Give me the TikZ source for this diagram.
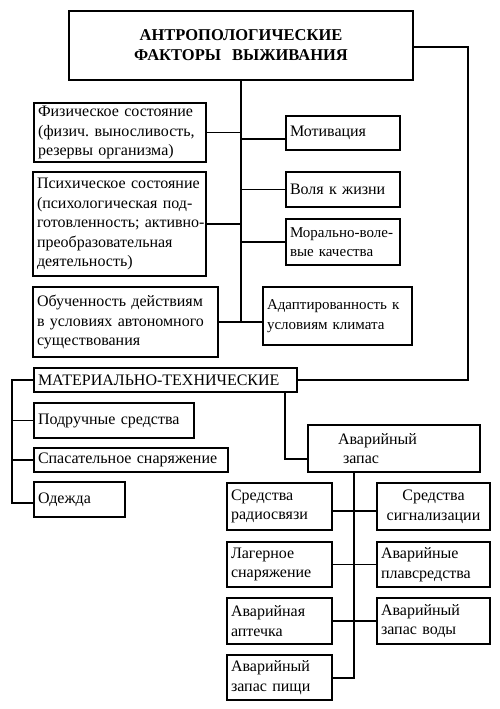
\documentclass[tikz,border=0pt]{standalone}
\usepackage{fontspec}
\setmainfont{Liberation Serif}
\usepackage{tikz}
\tikzset{
    factorbox/.style n args={3}{draw, line width=1.1pt, minimum width=#1, minimum height=#2, text width=#3, inner xsep=4pt, inner ysep=0pt, align=left, font=\fontsize{16}{19.5}\selectfont},
    linkline/.style={line width=1.1pt}
}

\begin{document}
\begin{tikzpicture}[x=1pt,y=-1pt]
    \useasboundingbox (0,0) rectangle (500,709);

    \node[factorbox={344pt}{69pt}{336pt}, align=center, font=\fontsize{16.5}{20}\selectfont\bfseries] (title) at (241,45.5) {АНТРОПОЛОГИЧЕСКИЕ\\ФАКТОРЫ\ \ ВЫЖИВАНИЯ};

    \node[factorbox={172pt}{59pt}{164pt}] (phys) at (120,132.5) {Физическое состояние\\\mbox{(физич.\ выносливость,}\\резервы организма)};
    \node[factorbox={173pt}{104pt}{165pt}] (psych) at (119.5,224) {Психическое состояние\\\mbox{(психологическая под-}\\\mbox{готовленность; активно-}\\преобразовательная\\деятельность)};
    \node[factorbox={185pt}{70pt}{177pt}] (train) at (125.5,322) {\mbox{Обученность действиям}\\\mbox{в условиях автономного}\\существования};

    \node[factorbox={114pt}{34pt}{106pt}] (motiv) at (343,133) {Мотивация};
    \node[factorbox={114pt}{35pt}{106pt}] (will) at (343,189.5) {Воля к жизни};
    \node[factorbox={114pt}{46pt}{106pt}, font=\fontsize{15}{19.5}\selectfont] (moral) at (343,242) {\mbox{Морально-воле-}\\вые качества};
    \node[factorbox={149pt}{58pt}{141pt}, font=\fontsize{15}{19.5}\selectfont] (adapt) at (337.5,316) {\mbox{Адаптированность к}\\условиям климата};

    \node[factorbox={263pt}{24pt}{255pt}] (mater) at (165.5,380) {МАТЕРИАЛЬНО-ТЕХНИЧЕСКИЕ};
    \node[factorbox={160pt}{35pt}{152pt}] (handy) at (114,420.5) {Подручные средства};
    \node[factorbox={194pt}{24pt}{186pt}] (rescue) at (131,460) {\mbox{Спасательное снаряжение}};
    \node[factorbox={91pt}{35pt}{83pt}] (cloth) at (79.5,499.5) {Одежда};

    \node[factorbox={172pt}{47pt}{164pt}] (reserve) at (394,448.5) {\hspace*{26pt}Аварийный\\\hspace*{31pt}запас};

    \node[factorbox={105pt}{47pt}{97pt}] (radio) at (279.5,506.5) {Средства\\радиосвязи};
    \node[factorbox={113pt}{47pt}{105pt}, align=center] (signal) at (433.5,506.5) {Средства\\сигнализации};
    \node[factorbox={105pt}{45pt}{97pt}] (camp) at (279.5,564.5) {Лагерное\\снаряжение};
    \node[factorbox={113pt}{45pt}{105pt}] (boats) at (433.5,564.5) {Аварийные\\плавсредства};
    \node[factorbox={105pt}{46pt}{97pt}] (aid) at (279.5,621) {Аварийная\\аптечка};
    \node[factorbox={113pt}{46pt}{105pt}] (water) at (433.5,621) {Аварийный\\запас воды};
    \node[factorbox={105pt}{45pt}{97pt}] (food) at (279.5,677.5) {Аварийный\\запас пищи};

    \coordinate (rbus) at (468,380);
    \coordinate (lbus) at (12,380);
    \coordinate (mdrop) at (285,459);
    \coordinate (abus) at (354,678);

    \draw[linkline] (title.south) -- (title.south |- train.east);
    \draw[linkline] (phys.east) -- (phys.east -| title.south);
    \draw[linkline] (psych.east) -- (psych.east -| title.south);
    \draw[linkline] (train.east) -- (train.east -| adapt.west);
    \draw[linkline] ([yshift=-6pt]motiv.west) -- ([yshift=-6pt]motiv.west -| title.south);
    \draw[linkline] (will.west) -- (will.west -| title.south);
    \draw[linkline] (moral.west) -- (moral.west -| title.south);

    \draw[linkline] ([yshift=-1.5pt]title.east) -| (rbus) -- (mater.east);
    \draw[linkline] (mater.west) -- (lbus) |- ([yshift=-3.5pt]cloth.west);
    \draw[linkline] (handy.west) -- (handy.west -| lbus);
    \draw[linkline] (rescue.west) -- (rescue.west -| lbus);

    \draw[linkline] (mdrop |- mater.south) -- (mdrop) -- (mdrop -| reserve.west);

    \draw[linkline] (abus |- reserve.south) -- (abus) -- (abus -| food.east);
    \draw[linkline] ([yshift=-4.5pt]radio.east) -- ([yshift=-4.5pt]signal.west);
    \draw[linkline] (camp.east) -- (boats.west);
    \draw[linkline] (aid.east) -- (water.west);
\end{tikzpicture}
\end{document}
